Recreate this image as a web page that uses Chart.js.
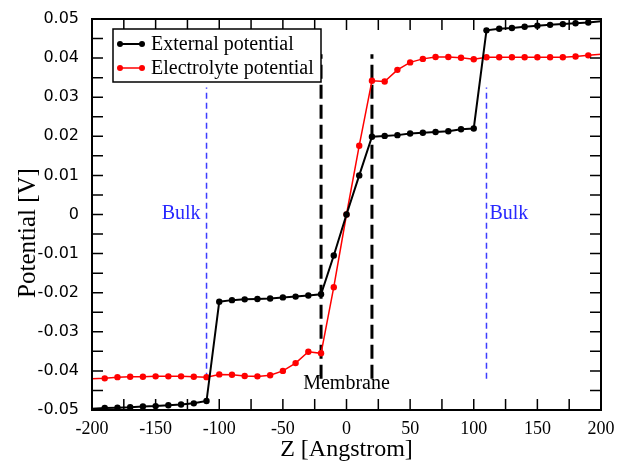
<!DOCTYPE html>
<html>
<head>
<meta charset="utf-8">
<script src="https://cdn.jsdelivr.net/npm/chart.js@4"></script>
<style>
  body { margin: 0; background: #fff; }
  #wrap { width: 619px; height: 464px; }
</style>
</head>
<body>
<div id="wrap"><canvas id="potential-chart" width="619" height="464"></canvas></div>
<script>
// Z positions (Angstrom)
const zValues = [-200, -190, -180, -170, -160, -150, -140, -130, -120, -110,
    -100, -90, -80, -70, -60, -50, -40, -30, -20, -10,
    0, 10, 20, 30, 40, 50, 60, 70, 80, 90,
    100, 110, 120, 130, 140, 150, 160, 170, 180, 190, 200];

const externalPotential = [-0.0497, -0.0495, -0.0494, -0.0493, -0.0491, -0.0490, -0.0488, -0.0486, -0.0483, -0.0477,
    -0.0223, -0.0219, -0.0217, -0.0216, -0.0215, -0.0212, -0.0210, -0.0207, -0.0204, -0.0105,
    0, 0.0100, 0.0199, 0.0201, 0.0203, 0.0207, 0.0209, 0.0211, 0.0213, 0.0218,
    0.0220, 0.0471, 0.0475, 0.0477, 0.0480, 0.0483, 0.0485, 0.0487, 0.0489, 0.0491, 0.0494];

const electrolytePotential = [-0.0420, -0.0419, -0.0416, -0.0415, -0.0415, -0.0414, -0.0414, -0.0414, -0.0415, -0.0416,
    -0.0409, -0.0410, -0.0413, -0.0414, -0.0411, -0.0400, -0.0380, -0.0351, -0.0355, -0.0186,
    0, 0.0176, 0.0342, 0.0340, 0.0370, 0.0389, 0.0398, 0.0403, 0.0403, 0.0401,
    0.0397, 0.0402, 0.0402, 0.0402, 0.0402, 0.0402, 0.0402, 0.0402, 0.0404, 0.0407, 0.0410];

// marker lines
const bulkZ = [-110, 110];
const bulkRange = [-0.042, 0.0325];
const membraneZ = [-20, 20];
const membraneRange = [-0.042, 0.041];

// ticks
const xTicks = [-200, -150, -100, -50, 0, 50, 100, 150, 200];
const xMinorTicks = [-175, -125, -75, -25, 25, 75, 125, 175];
const yTicks = [-0.05, -0.04, -0.03, -0.02, -0.01, 0, 0.01, 0.02, 0.03, 0.04, 0.05];
const yTickLabels = ["-0.05", "-0.04", "-0.03", "-0.02", "-0.01", "0", "0.01", "0.02", "0.03", "0.04", "0.05"];
const yMinorTicks = [-0.045, -0.035, -0.025, -0.015, -0.005, 0.005, 0.015, 0.025, 0.035, 0.045];

const seriesLabels = ["External potential", "Electrolyte potential"];
const yTitle = "Potential [V]";

function toPoints(xs, ys) {
    return xs.map((x, i) => ({ x: x, y: ys[i] }));
}

// hide the dots sitting exactly on the frame
function edgeRadius(ctx) {
    if (ctx.raw && Math.abs(ctx.raw.x) >= 200) return 0;
    return 3.2;
}

function vLine(x, range, color, width, dash) {
    return {
        data: [{ x: x, y: range[0] }, { x: x, y: range[1] }],
        borderColor: color,
        borderWidth: width,
        borderDash: dash,
        pointRadius: 0,
        showLine: true,
    };
}

// frame, inward ticks, text labels and legend
const decorPlugin = {
    id: "decor",
    afterDatasetsDraw(chart) {
        const ctx = chart.ctx;
        const xs = chart.scales.x;
        const ys = chart.scales.y;

        ctx.save();
        ctx.font = "20px 'Liberation Serif'";
        ctx.textBaseline = "alphabetic";
        ctx.fillStyle = "rgb(40,40,255)";
        ctx.textAlign = "right";
        ctx.fillText("Bulk", xs.getPixelForValue(bulkZ[0]) - 6, ys.getPixelForValue(0) + 4);
        ctx.textAlign = "left";
        ctx.fillText("Bulk", xs.getPixelForValue(bulkZ[1]) + 3, ys.getPixelForValue(0) + 4);
        ctx.fillStyle = "#000";
        ctx.textAlign = "center";
        ctx.fillText("Membrane", xs.getPixelForValue(0), ys.getPixelForValue(-0.0446));

        // y axis title, sits a bit below the middle like the original
        ctx.translate(28, 233);
        ctx.rotate(-Math.PI / 2);
        ctx.font = "25px 'Liberation Serif'";
        ctx.textBaseline = "middle";
        ctx.fillText(yTitle, 0, 0);
        ctx.restore();
    },
    afterDraw(chart) {
        const ctx = chart.ctx;
        const area = chart.chartArea;
        const xs = chart.scales.x;
        const ys = chart.scales.y;
        const tick = 11;

        ctx.save();
        ctx.strokeStyle = "#000";
        ctx.lineWidth = 1.5;
        ctx.beginPath();
        xTicks.concat(xMinorTicks).forEach((v) => {
            const px = xs.getPixelForValue(v);
            ctx.moveTo(px, area.bottom);
            ctx.lineTo(px, area.bottom - tick);
            ctx.moveTo(px, area.top);
            ctx.lineTo(px, area.top + tick);
        });
        yTicks.concat(yMinorTicks).forEach((v) => {
            const py = ys.getPixelForValue(v);
            ctx.moveTo(area.left, py);
            ctx.lineTo(area.left + tick, py);
            ctx.moveTo(area.right, py);
            ctx.lineTo(area.right - tick, py);
        });
        ctx.stroke();

        ctx.lineWidth = 2;
        ctx.strokeRect(area.left, area.top, area.right - area.left, area.bottom - area.top);

        // legend box
        const box = { x: 113, y: 29, w: 208, h: 53 };
        ctx.fillStyle = "#fff";
        ctx.fillRect(box.x, box.y, box.w, box.h);
        ctx.lineWidth = 1.5;
        ctx.strokeRect(box.x, box.y, box.w, box.h);

        ctx.font = "20px 'Liberation Serif'";
        ctx.textAlign = "left";
        ctx.textBaseline = "middle";
        seriesLabels.forEach((label, i) => {
            const ds = chart.data.datasets[i];
            const y = box.y + 15 + i * 24;
            ctx.strokeStyle = ds.borderColor;
            ctx.fillStyle = ds.borderColor;
            ctx.lineWidth = ds.borderWidth;
            ctx.beginPath();
            ctx.moveTo(120, y);
            ctx.lineTo(142, y);
            ctx.stroke();
            [120, 142].forEach((px) => {
                ctx.beginPath();
                ctx.arc(px, y, 3, 0, Math.PI * 2);
                ctx.fill();
            });
            ctx.fillStyle = "#000";
            ctx.fillText(label, 151, y + 1);
        });
        ctx.restore();
    },
};

function initializeChart() {
    const canvas = document.getElementById("potential-chart");

    const config = {
        type: "scatter",
        data: {
            datasets: [
                {
                    label: seriesLabels[0],
                    data: toPoints(zValues, externalPotential),
                    borderColor: "#000",
                    backgroundColor: "#000",
                    borderWidth: 2,
                    pointRadius: edgeRadius,
                    pointBorderWidth: 0,
                    showLine: true,
                },
                {
                    label: seriesLabels[1],
                    data: toPoints(zValues, electrolytePotential),
                    borderColor: "#ff0000",
                    backgroundColor: "#ff0000",
                    borderWidth: 1.5,
                    pointRadius: edgeRadius,
                    pointBorderWidth: 0,
                    showLine: true,
                },
                vLine(membraneZ[0], membraneRange, "#000", 3, [14, 6]),
                vLine(membraneZ[1], membraneRange, "#000", 3, [14, 6]),
                vLine(bulkZ[0], bulkRange, "rgb(60,60,255)", 1.5, [6, 4]),
                vLine(bulkZ[1], bulkRange, "rgb(60,60,255)", 1.5, [6, 4]),
            ],
        },
        options: {
            responsive: false,
            animation: false,
            events: [],
            layout: { padding: { left: 0, top: 19, right: 18, bottom: 0 } },
            plugins: {
                legend: { display: false },
                tooltip: { enabled: false },
            },
            scales: {
                x: {
                    type: "linear",
                    min: -200,
                    max: 200,
                    afterFit: (s) => { s.height = 54; },
                    afterBuildTicks: (s) => { s.ticks = xTicks.map((v) => ({ value: v })); },
                    grid: { display: false },
                    border: { display: false },
                    ticks: {
                        autoSkip: false,
                        maxRotation: 0,
                        padding: 0,
                        color: "#000",
                        font: { family: "'Liberation Serif'", size: 18 },
                    },
                    title: {
                        display: true,
                        text: "Z [Angstrom]",
                        color: "#000",
                        padding: { top: 0, bottom: 0 },
                        font: { family: "'Liberation Serif'", size: 24 },
                    },
                },
                y: {
                    type: "linear",
                    min: -0.05,
                    max: 0.05,
                    afterFit: (s) => { s.width = 92; },
                    afterBuildTicks: (s) => { s.ticks = yTicks.map((v) => ({ value: v })); },
                    grid: { display: false },
                    border: { display: false },
                    ticks: {
                        autoSkip: false,
                        padding: 5,
                        color: "#000",
                        font: { family: "'DejaVu Sans'", size: 16 },
                        callback: (val, idx) => yTickLabels[idx],
                    },
                    title: { display: false },
                },
            },
        },
        plugins: [decorPlugin],
    };

    canvas.chart = new Chart(canvas, config);
}

document.addEventListener("DOMContentLoaded", initializeChart);
</script>
</body>
</html>
